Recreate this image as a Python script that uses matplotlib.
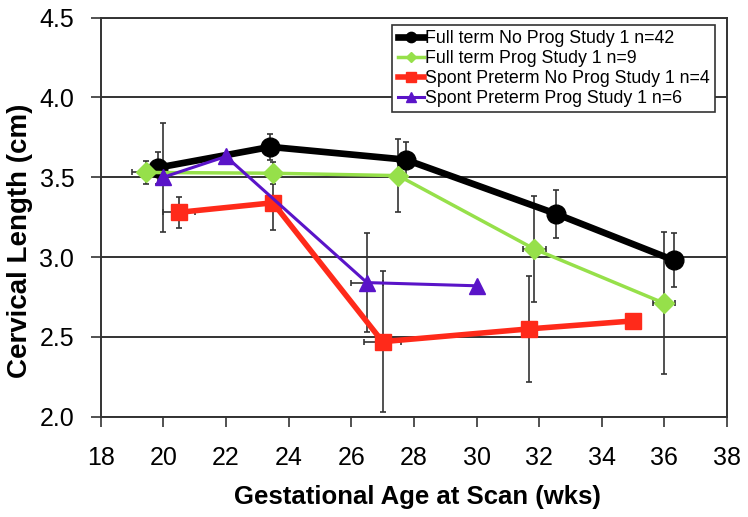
import matplotlib
matplotlib.use("Agg")
import matplotlib.pyplot as plt

plt.rcParams['font.family'] = ['Liberation Sans', 'DejaVu Sans']

# Full term No Prog Study 1 n=42
ft_np_x = [19.83, 23.42, 27.74, 32.55, 36.3]
ft_np_y = [3.56, 3.69, 3.61, 3.27, 2.98]
ft_np_yerr = [0.10, 0.08, 0.11, 0.15, 0.17]

# Full term Prog Study 1 n=9
ft_p_x = [19.44, 23.5, 27.5, 31.85, 36.0]
ft_p_y = [3.53, 3.525, 3.51, 3.05, 2.71]
ft_p_yerr = [0.07, 0.07, 0.23, 0.33, 0.445]
ft_p_xerr = [0.45, 0.0, 0.0, 0.38, 0.35]

# Spont Preterm No Prog Study 1 n=4
sp_np_x = [20.5, 23.5, 27.0, 31.68, 35.0]
sp_np_y = [3.28, 3.34, 2.47, 2.55, 2.60]
sp_np_yerr = [0.095, 0.17, 0.44, 0.33, 0.0]
sp_np_xerr = [0.5, 0.0, 0.6, 0.0, 0.0]

# Spont Preterm Prog Study 1 n=6
sp_p_x = [20.0, 22.0, 26.5, 30.0]
sp_p_y = [3.50, 3.63, 2.84, 2.82]
sp_p_yerr = [0.34, 0.0, 0.31, 0.0]
sp_p_xerr = [0.0, 0.0, 0.5, 0.0]

labels = ["Full term No Prog Study 1 n=42", "Full term Prog Study 1 n=9",
          "Spont Preterm No Prog Study 1 n=4", "Spont Preterm Prog Study 1 n=6"]

x_ticks = list(range(18, 39, 2))
y_ticks = [2.0, 2.5, 3.0, 3.5, 4.0, 4.5]

fig = plt.figure(figsize=(7.48, 5.17), dpi=100)
ax = fig.add_axes([0.1346, 0.194, 0.8374, 0.772])

for yv in y_ticks:
    ax.axhline(yv, color='#333333', lw=1.4, zorder=0)

ebkw = dict(ecolor='#333333', elinewidth=1.2, capsize=2.5, capthick=1.2, zorder=1)

ax.errorbar(ft_np_x, ft_np_y, yerr=ft_np_yerr, fmt='none', **ebkw)
ax.errorbar(ft_p_x, ft_p_y, yerr=ft_p_yerr, xerr=ft_p_xerr, fmt='none', **ebkw)
ax.errorbar(sp_np_x, sp_np_y, yerr=sp_np_yerr, xerr=sp_np_xerr, fmt='none', **ebkw)
ax.errorbar(sp_p_x, sp_p_y, yerr=sp_p_yerr, xerr=sp_p_xerr, fmt='none', **ebkw)

l1, = ax.plot(ft_np_x, ft_np_y, color='black', lw=4.8, marker='o', ms=13.5, zorder=3, label=labels[0])
l2, = ax.plot(ft_p_x, ft_p_y, color='#96e04a', lw=2.5, marker='D', ms=10, zorder=4, label=labels[1])
l3, = ax.plot(sp_np_x, sp_np_y, color='#ff2a1a', lw=4, marker='s', ms=12, zorder=3, label=labels[2])
l4, = ax.plot(sp_p_x, sp_p_y, color='#5a14c8', lw=2.2, marker='^', ms=12, zorder=5, label=labels[3])

ax.set_xlim(18, 38)
ax.set_ylim(2.0, 4.5)
ax.set_xticks(x_ticks)
ax.set_yticks(y_ticks)
ax.set_yticklabels([f"{v:.1f}" for v in y_ticks])
ax.tick_params(axis='both', direction='out', length=7, width=1.2, color='#333333', labelsize=18)
ax.tick_params(axis='x', pad=14)
ax.tick_params(axis='y', pad=12)
for s in ax.spines.values():
    s.set_color('#333333')
    s.set_linewidth(1.4)

ax.set_xlabel("Gestational Age at Scan (wks)", fontsize=18.5, fontweight='bold')
ax.set_ylabel("Cervical Length (cm)", fontsize=20, fontweight='bold')
ax.xaxis.set_label_coords(0.505, -0.172)
ax.yaxis.set_label_coords(-0.108, 0.44)

leg = ax.legend(handles=[l1, l2, l3, l4], loc='upper right', bbox_to_anchor=(0.981, 0.981),
                fontsize=12.8, frameon=True, fancybox=False, handlelength=1.5, handletextpad=0.05,
                labelspacing=0.16, borderpad=0.3, borderaxespad=0, markerscale=0.55)
leg.get_frame().set_edgecolor('#333333')
leg.get_frame().set_linewidth(1.2)
leg.get_frame().set_alpha(1)

fig.savefig("out.png", dpi=100)
